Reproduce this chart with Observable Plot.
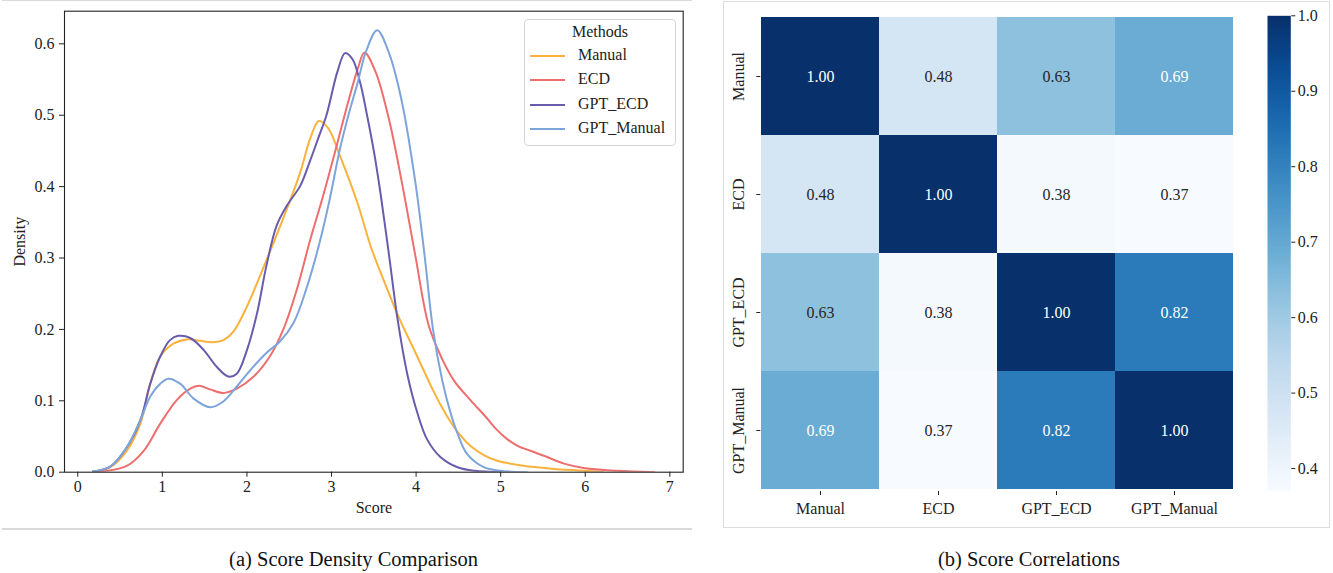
<!DOCTYPE html>
<html><head><meta charset="utf-8">
<script src="https://cdn.jsdelivr.net/npm/d3@7"></script>
<script src="https://cdn.jsdelivr.net/npm/@observablehq/plot@0.6"></script>
<style>
body{margin:0;background:#fff;font-family:"Liberation Serif","Times New Roman",serif;}
#root{position:relative;width:1333px;height:573px;overflow:hidden;background:#fff;}
.cap{position:absolute;font-size:20.5px;line-height:20.5px;color:#111;white-space:nowrap;transform:translateX(-50%);}
</style></head><body><div id="root"></div>
<script>
// ---------- data ----------
const methods = ["Manual", "ECD", "GPT_ECD", "GPT_Manual"];
const lineColors = ["#F9B23C", "#EE6E6E", "#6A5CAC", "#7DA5DC"];

const manualX = [0.18,0.385,0.58,0.74,0.857,0.975,1.13,1.29,1.45,1.585,1.72,1.84,2.0,2.155,2.31,2.47,2.63,2.75,2.85,2.96,3.10,3.31,3.47,3.62,3.78,3.99,4.1,4.2,4.3,4.41,4.5,4.64,4.8,4.96,5.27,5.59,5.98,6.22];
const manualY = [0.001,0.007,0.03,0.068,0.124,0.162,0.18,0.186,0.184,0.182,0.185,0.197,0.232,0.275,0.32,0.368,0.42,0.468,0.492,0.482,0.443,0.376,0.314,0.268,0.221,0.168,0.14,0.115,0.092,0.07,0.055,0.037,0.024,0.016,0.009,0.005,0.002,0.0];

const ecdX = [0.18,0.58,0.78,0.975,1.17,1.33,1.43,1.565,1.72,1.88,2.08,2.27,2.43,2.59,2.74,2.9,3.02,3.2,3.31,3.39,3.52,3.68,3.83,3.99,4.15,4.31,4.45,4.65,4.82,4.95,5.08,5.2,5.35,5.51,5.75,5.98,6.37,6.82];
const ecdY = [0.0,0.009,0.03,0.068,0.101,0.117,0.121,0.116,0.111,0.117,0.134,0.162,0.2,0.256,0.322,0.387,0.439,0.52,0.565,0.588,0.561,0.494,0.407,0.304,0.205,0.158,0.128,0.1,0.078,0.06,0.046,0.037,0.03,0.023,0.012,0.006,0.002,0.0];

const gptEcdX = [0.18,0.385,0.58,0.74,0.857,0.975,1.09,1.19,1.33,1.49,1.64,1.78,1.88,2.0,2.12,2.23,2.35,2.47,2.63,2.74,2.85,2.94,3.07,3.16,3.25,3.34,3.42,3.5,3.58,3.68,3.78,3.9,4.01,4.13,4.29,4.49,4.69,5.0];
const gptEcdY = [0.001,0.008,0.035,0.073,0.124,0.162,0.185,0.191,0.188,0.171,0.148,0.134,0.138,0.171,0.223,0.289,0.345,0.373,0.401,0.434,0.47,0.5,0.561,0.587,0.578,0.545,0.5,0.45,0.39,0.304,0.215,0.135,0.085,0.046,0.021,0.007,0.002,0.0];

const gptManualX = [0.18,0.385,0.58,0.74,0.857,0.975,1.07,1.21,1.37,1.565,1.72,1.88,2.04,2.23,2.39,2.55,2.7,2.86,2.98,3.1,3.2,3.31,3.41,3.54,3.68,3.83,3.99,4.1,4.2,4.31,4.41,4.49,4.6,4.8,5.0,5.31];
const gptManualY = [0.001,0.008,0.035,0.073,0.106,0.124,0.131,0.124,0.103,0.091,0.099,0.12,0.143,0.167,0.183,0.209,0.256,0.322,0.383,0.453,0.5,0.546,0.59,0.619,0.587,0.52,0.407,0.304,0.2,0.128,0.082,0.054,0.026,0.007,0.002,0.0];

const xTicks = [0,1,2,3,4,5,6,7];
const yTicks = [0.0,0.1,0.2,0.3,0.4,0.5,0.6];

const corrManual = [1.00, 0.48, 0.63, 0.69];
const corrECD = [0.48, 1.00, 0.38, 0.37];
const corrGptEcd = [0.63, 0.38, 1.00, 0.82];
const corrGptManual = [0.69, 0.37, 0.82, 1.00];
const colorbarTicks = [0.4,0.5,0.6,0.7,0.8,0.9,1.0];
const corrMin = 0.37, corrMax = 1.0;

// ---------- tables ----------
const seriesXs = [manualX, ecdX, gptEcdX, gptManualX];
const seriesYs = [manualY, ecdY, gptEcdY, gptManualY];
const densityTable = [];
methods.forEach((m, i) => seriesXs[i].forEach((x, j) => densityTable.push({method: m, score: x, density: seriesYs[i][j]})));

const corrRows = [corrManual, corrECD, corrGptEcd, corrGptManual];
const corrTable = [];
methods.forEach((r, i) => methods.forEach((c, j) => corrTable.push({row: r, col: c, value: corrRows[i][j]})));

const FONT = '"Liberation Serif","Times New Roman",serif';
const root = document.getElementById("root");
function place(el, left, top) { el.style.position = "absolute"; el.style.left = left + "px"; el.style.top = top + "px"; root.appendChild(el); return el; }

// ---------- panel (a) ----------
const density = Plot.plot({
  width: 700, height: 528,
  marginLeft: 64, marginRight: 17.3, marginTop: 10.7, marginBottom: 56.3,
  style: {fontFamily: FONT, fontSize: "16px", color: "#222", background: "transparent", overflow: "visible"},
  x: {domain: [-0.157, 7.158]},
  y: {domain: [0, 0.6457]},
  color: {domain: methods, range: lineColors},
  marks: [
    Plot.axisX({ticks: xTicks, tickFormat: d3.format("d"), tickSize: 5, tickPadding: 3.5, label: null, stroke: "#222"}),
    Plot.axisY({ticks: yTicks, tickFormat: d3.format(".1f"), tickSize: 5, tickPadding: 5, label: null, stroke: "#222"}),
    Plot.line(densityTable, {x: "score", y: "density", z: "method", stroke: "method", strokeWidth: 2, curve: "catmull-rom", clip: true}),
    Plot.frame({stroke: "#222", strokeWidth: 1.1}),
    Plot.text(["Score"], {frameAnchor: "bottom", dy: 36, textAnchor: "middle", lineAnchor: "middle", fontSize: 16, fill: "#222"}),
    Plot.text(["Density"], {frameAnchor: "left", dx: -45, rotate: -90, textAnchor: "middle", lineAnchor: "middle", fontSize: 16, fill: "#222"})
  ]
});
place(density, 0, 0);

// legend
const leg = document.createElement("div");
leg.style.cssText = "width:150px;height:125px;border:1px solid #d4d4d4;border-radius:4px;background:rgba(255,255,255,0.85);font-family:" + FONT + ";font-size:16px;color:#222;";
place(leg, 524, 19);
const title = document.createElement("div");
title.textContent = "Methods";
title.style.cssText = "position:absolute;left:0;width:150px;text-align:center;top:3px;line-height:18px;";
leg.appendChild(title);
methods.forEach((m, i) => {
  const ln = document.createElement("div");
  ln.style.cssText = `position:absolute;left:5px;width:35px;height:2px;top:${36 + i * 24.4 - 1}px;background:${lineColors[i]};`;
  leg.appendChild(ln);
  const tx = document.createElement("div");
  tx.textContent = m;
  tx.style.cssText = `position:absolute;left:53px;top:${36 + i * 24.4 - 10}px;line-height:18px;white-space:nowrap;`;
  leg.appendChild(tx);
});

// panel (a) separator lines
const topLine = document.createElement("div");
topLine.style.cssText = "width:690px;height:1px;background:#d9d9d9;";
place(topLine, 2, 0);
const botLine = document.createElement("div");
botLine.style.cssText = "width:690px;height:1.5px;background:#d9d9d9;";
place(botLine, 2, 528);

// ---------- panel (b) ----------
const box = document.createElement("div");
box.style.cssText = "width:607px;height:527px;border:1px solid #dcdcdc;box-sizing:border-box;";
place(box, 723, 1);

const heat = Plot.plot({
  width: 520, height: 528,
  marginLeft: 37.3, marginRight: 8.7, marginTop: 15.3, marginBottom: 37,
  style: {fontFamily: FONT, fontSize: "16px", color: "#222", background: "transparent", overflow: "visible"},
  x: {domain: methods, padding: 0},
  y: {domain: methods, padding: 0},
  color: {type: "linear", scheme: "blues", domain: [corrMin, corrMax]},
  marks: [
    Plot.cell(corrTable, {x: "col", y: "row", fill: "value", inset: 0}),
    Plot.text(corrTable.filter(d => d.value > 0.65), {x: "col", y: "row", text: d => d.value.toFixed(2), fill: "white", fontSize: 16}),
    Plot.text(corrTable.filter(d => d.value <= 0.65), {x: "col", y: "row", text: d => d.value.toFixed(2), fill: "#262626", fontSize: 16}),
    Plot.axisX({tickSize: 4, tickPadding: 7, label: null, stroke: "#222"}),
    Plot.axisY({tickSize: 4, tickFormat: () => "", label: null, stroke: "#222"}),
    Plot.text(methods, {y: d => d, frameAnchor: "left", dx: -21.5, rotate: -90, textAnchor: "middle", lineAnchor: "middle", fontSize: 16, fill: "#222"})
  ]
});
place(heat, 723, 0);

const cbar = Plot.plot({
  width: 80, height: 528,
  marginLeft: 0, marginRight: 56.7, marginTop: 15.3, marginBottom: 37.3,
  style: {fontFamily: FONT, fontSize: "16px", color: "#222", background: "transparent", overflow: "visible"},
  x: {domain: [0, 1], axis: null},
  y: {domain: [corrMin, corrMax]},
  color: {type: "linear", scheme: "blues", domain: [corrMin, corrMax]},
  marks: [
    Plot.raster({x1: 0, x2: 1, y1: corrMin, y2: corrMax, width: 1, height: 400, fill: (x, y) => y, imageRendering: "auto"}),
    Plot.axisY({anchor: "right", ticks: colorbarTicks, tickFormat: d3.format(".1f"), tickSize: 4, tickPadding: 3, label: null, stroke: "#222"})
  ]
});
place(cbar, 1266.7, 0);

// captions
const capA = document.createElement("div");
capA.className = "cap"; capA.textContent = "(a) Score Density Comparison";
place(capA, 353.5, 549);
const capB = document.createElement("div");
capB.className = "cap"; capB.textContent = "(b) Score Correlations";
place(capB, 1029, 549);
</script></body></html>
